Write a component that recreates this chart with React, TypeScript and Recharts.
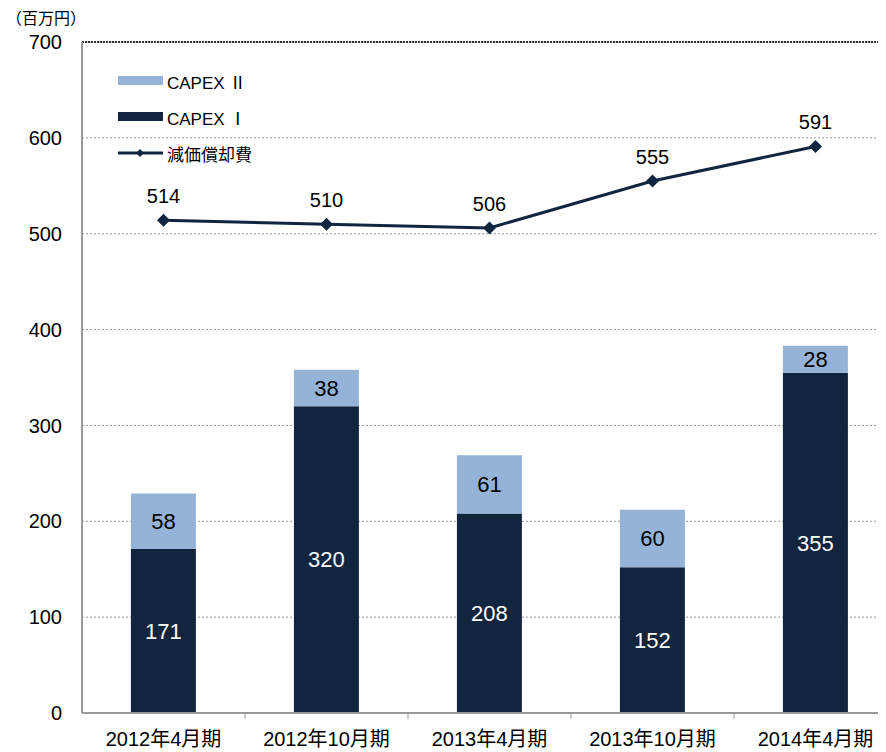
import React from "react";
import { ComposedChart, Bar, Line, XAxis, YAxis, CartesianGrid, LabelList, ReferenceLine } from "recharts";

const categories = ["2012年4月期", "2012年10月期", "2013年4月期", "2013年10月期", "2014年4月期"];
const capex1 = [171, 320, 208, 152, 355];
const capex2 = [58, 38, 61, 60, 28];
const depreciation = [514, 510, 506, 555, 591];
const yTicks = [0, 100, 200, 300, 400, 500, 600, 700];

const data = categories.map((c, i) => ({ name: c, capex1: capex1[i], capex2: capex2[i], dep: depreciation[i] }));

const FONT = "'Liberation Sans', Arial, 'Noto Sans CJK JP', sans-serif";
const NAVY = "#12253F";
const LIGHT = "#95B3D7";

const Diamond = (props: any) => {
  const { cx, cy } = props;
  if (cx == null || cy == null) return null;
  const r = 6.5;
  return <polygon points={`${cx},${cy - r} ${cx + r},${cy} ${cx},${cy + r} ${cx - r},${cy}`} fill={NAVY} />;
};

const XTick = (props: any) => {
  const { x, y, payload, index } = props;
  return (
    <g>
      {index < categories.length - 1 && (
        <line x1={x + 81.5} x2={x + 81.5} y1={y - 8} y2={y - 2} stroke="#999" strokeWidth={1} />
      )}
      <text x={x} y={y + 25} textAnchor="middle" fontSize={20} fill="#000" fontFamily={FONT}>
        {payload.value}
      </text>
    </g>
  );
};

const legendItems = [
  { label: "CAPEX Ⅱ", type: "bar", color: LIGHT },
  { label: "CAPEX Ⅰ", type: "bar", color: NAVY },
  { label: "減価償却費", type: "line", color: NAVY },
];

const LegendBox = () => (
  <div style={{ position: "absolute", left: 118, top: 63, fontFamily: FONT, fontSize: 17, color: "#000" }}>
    {legendItems.map((it) => (
      <div key={it.label} style={{ display: "flex", alignItems: "center", height: 36 }}>
        <svg width={46} height={14} style={{ marginRight: 3 }}>
          {it.type === "bar" ? (
            <rect x={0} y={2} width={45} height={9} fill={it.color} />
          ) : (
            <g>
              <line x1={0} x2={45} y1={7} y2={7} stroke={it.color} strokeWidth={3} />
              <polygon points="22,3 26,7 22,11 18,7" fill={it.color} />
            </g>
          )}
        </svg>
        <span>{it.label}</span>
      </div>
    ))}
  </div>
);

export default function App() {
  return (
    <div style={{ margin: "-8px 0 0 -8px", width: 886, height: 752, overflow: "hidden", position: "relative", background: "#fff" }}>
      <ComposedChart
        width={897}
        height={752}
        data={data}
        margin={{ top: 42, right: 0, bottom: 0, left: 0 }}
        barCategoryGap="30%"
      >
        <CartesianGrid vertical={false} stroke="#999" strokeDasharray="2 2" />
        <ReferenceLine y={700} stroke="#333" strokeWidth={2} strokeDasharray="2 1" />
        <XAxis
          dataKey="name"
          height={39}
          tick={<XTick />}
          tickLine={false}
          axisLine={{ stroke: "#999", strokeWidth: 2 }}
          interval={0}
        />
        <YAxis
          width={82}
          domain={[0, 700]}
          ticks={yTicks}
          tickLine={false}
          tickSize={0}
          tickMargin={20}
          axisLine={{ stroke: "#999", strokeWidth: 2 }}
          tick={{ fontSize: 20, fill: "#000", fontFamily: FONT }}
        />
        <Bar dataKey="capex1" stackId="a" fill={NAVY} isAnimationActive={false}>
          <LabelList dataKey="capex1" position="center" fill="#fff" fontSize={22} fontFamily={FONT} />
        </Bar>
        <Bar dataKey="capex2" stackId="a" fill={LIGHT} isAnimationActive={false}>
          <LabelList dataKey="capex2" position="center" fill="#000" fontSize={22} fontFamily={FONT} />
        </Bar>
        <Line
          dataKey="dep"
          stroke={NAVY}
          strokeWidth={3}
          dot={<Diamond />}
          activeDot={false}
          isAnimationActive={false}
        >
          <LabelList dataKey="dep" position="top" offset={17} fill="#000" fontSize={20} fontFamily={FONT} />
        </Line>
      </ComposedChart>
      <LegendBox />
      <div style={{ position: "absolute", left: 6, top: 5, fontSize: 16, fontFamily: FONT, color: "#000" }}>（百万円）</div>
    </div>
  );
}
